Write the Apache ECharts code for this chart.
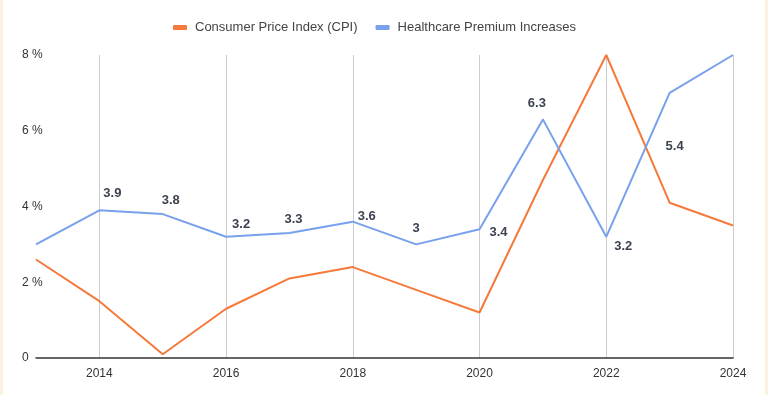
<!DOCTYPE html>
<html><head><meta charset="utf-8">
<script src="https://cdn.jsdelivr.net/npm/echarts@6/dist/echarts.min.js"></script>
<style>
html,body{margin:0;padding:0;background:#fff;}
#wrap{position:relative;width:768px;height:395px;box-sizing:border-box;border-left:3px solid #fdf2e0;border-right:3px solid #fdf2e0;}
#c{position:absolute;left:-3px;top:0;width:768px;height:395px;}
</style></head>
<body><div id="wrap"><div id="c"></div></div>
<script>
const years = ['2013','2014','2015','2016','2017','2018','2019','2020','2021','2022','2023','2024'];
const cpi = [2.6, 1.5, 0.1, 1.3, 2.1, 2.4, 1.8, 1.2, 4.7, 8.0, 4.1, 3.5];
const premium = [3.0, 3.9, 3.8, 3.2, 3.3, 3.6, 3.0, 3.4, 6.3, 3.2, 7.0, 8.0];
const premiumLabels = ['', '3.9', '3.8', '3.2', '3.3', '3.6', '3', '3.4', '6.3', '3.2', '5.4', ''];
const yTicks = [0, 2, 4, 6, 8];

const labelOffsets = [[0,0],[13,-17],[8,-14],[15,-12],[4,-14],[14,-5],[0,-16],[19,3],[-6,-16],[17,10],[5,54],[0,0]];

const chart = echarts.init(document.getElementById('c'), null, {renderer:'canvas'});
const font = 'Arial, "Liberation Sans", sans-serif';
chart.setOption({
  animation:false,
  textStyle:{fontFamily:font},
  legend:{
    top:16, left:168, itemGap:18, itemWidth:14, itemHeight:5, icon:'roundRect',
    textStyle:{color:'#444', fontSize:13, fontFamily:font, padding:[0,0,0,3]},
    data:['Consumer Price Index (CPI)','Healthcare Premium Increases']
  },
  grid:{left:36, right:35, top:55, bottom:37, containLabel:false},
  xAxis:{
    type:'category', data:years, boundaryGap:false,
    axisLine:{show:true, lineStyle:{color:'#333', width:1.5}},
    axisTick:{show:false},
    axisLabel:{color:'#333', fontSize:12, fontFamily:font, margin:10,
      interval:function(i){return i%2===1;}},
    splitLine:{show:true, interval:function(i){return i%2===1;}, lineStyle:{color:'#cccccc', width:1}}
  },
  yAxis:{
    type:'value', min:yTicks[0], max:yTicks[yTicks.length-1], interval:2,
    axisLine:{show:false}, axisTick:{show:false},
    axisLabel:{color:'#333', fontSize:12, fontFamily:font, margin:14, align:'left',
      formatter:function(v){return v===0?'0':v+' %';}},
    splitLine:{show:false}
  },
  series:[
    {name:'Consumer Price Index (CPI)', type:'line', data:cpi, symbol:'none',
     lineStyle:{color:'#f5793a', width:2}, itemStyle:{color:'#f5793a'}},
    {name:'Healthcare Premium Increases', type:'line', symbol:'circle', symbolSize:0, showSymbol:true,
     lineStyle:{color:'#78a0ec', width:2}, itemStyle:{color:'#78a0ec'},
     data:premium.map(function(v,i){
       return {value:v, label:{show:premiumLabels[i]!=='', position:'inside', offset:labelOffsets[i],
         formatter:premiumLabels[i], color:'#3c4350', fontWeight:'bold', fontSize:13, fontFamily:font}};
     })}
  ]
});
</script></body></html>
